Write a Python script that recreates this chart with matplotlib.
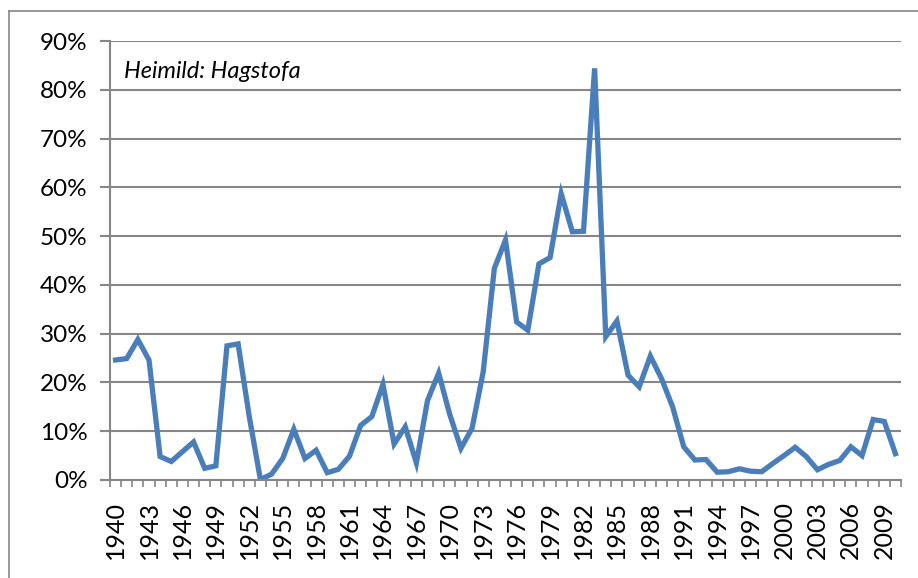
import matplotlib.pyplot as plt
from matplotlib.lines import Line2D
import numpy as np

years = list(range(1940, 2011))
inflation = [24.6, 24.9, 28.8, 24.6, 4.8, 3.8, 5.8, 7.8, 2.4, 2.9,
             27.5, 27.9, 13.0, 0.1, 1.2, 4.4, 10.4, 4.4, 6.1, 1.5,
             2.2, 4.9, 11.2, 13.0, 19.6, 7.4, 10.9, 3.5, 16.3, 21.9,
             13.4, 6.5, 10.6, 22.2, 43.4, 49.2, 32.4, 30.7, 44.3, 45.6,
             58.7, 50.9, 51.0, 84.4, 29.4, 32.6, 21.5, 19.1, 25.4, 20.8,
             15.0, 6.8, 4.1, 4.2, 1.6, 1.7, 2.3, 1.8, 1.7, 3.4,
             5.0, 6.7, 4.8, 2.1, 3.2, 4.0, 6.8, 5.0, 12.4, 12.0, 5.4]
label_years = years[::3]
yticks = list(range(0, 100, 10))

plt.rcParams['font.family'] = ['Lato', 'DejaVu Sans']
grey = '#868686'

fig = plt.figure(figsize=(9.18, 5.78), dpi=100)
ax = fig.add_axes([110 / 918, 98 / 578, 791 / 918, 439 / 578])

x = np.arange(len(years))
ax.plot(x, inflation, color='#4A7EBB', linewidth=3.8, solid_joinstyle='miter')

ax.set_xlim(-0.5, len(years) - 0.5)
ax.set_ylim(0, 90)
ax.set_yticks(yticks)
ax.set_yticklabels([f'{v}%' for v in yticks], fontsize=17.5)
ax.yaxis.grid(True, color=grey, linewidth=1.5)
ax.set_axisbelow(True)

ax.set_xticks([years.index(y) for y in label_years])
ax.set_xticklabels([str(y) for y in label_years], rotation=90, fontsize=18)
ax.set_xticks(np.arange(-0.5, len(years)), minor=True)
ax.tick_params(axis='x', which='major', length=0, pad=15)
ax.tick_params(axis='x', which='minor', length=5, width=1.2, color=grey, direction='out')
ax.tick_params(axis='y', length=7, width=1.5, color=grey, pad=9)

for side in ['top', 'right']:
    ax.spines[side].set_visible(False)
for side in ['left', 'bottom']:
    ax.spines[side].set_color(grey)
    ax.spines[side].set_linewidth(1.5)

ax.text(0.018, 0.93, 'Heimild: Hagstofa', transform=ax.transAxes,
        fontsize=17, style='italic', va='center', ha='left')

# outer chart border
bx, by = 9 / 918, 1 - 11 / 578
fig.add_artist(Line2D([bx, 1.0], [by, by], color=grey, linewidth=1.2))
fig.add_artist(Line2D([bx, bx], [0.0, by], color=grey, linewidth=1.2))

fig.savefig('out.png', dpi=100)
